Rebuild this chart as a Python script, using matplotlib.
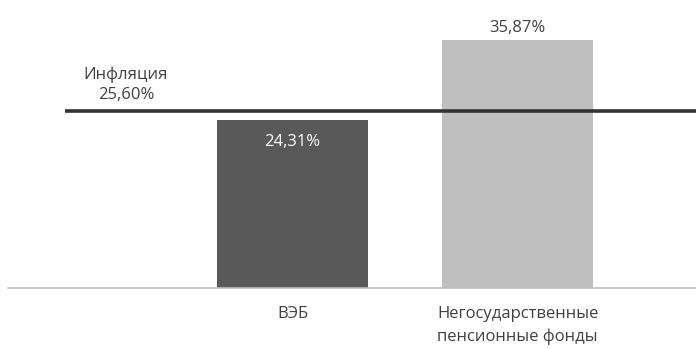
import matplotlib.pyplot as plt

# data
categories = ["", "ВЭБ", "Негосударственные\nпенсионные фонды"]
values = [None, 24.31, 35.87]
value_labels = ["", "24,31%", "35,87%"]
inflation = 25.60
inflation_label = "Инфляция\n25,60%"

plt.rcParams['font.family'] = ['Open Sans', 'DejaVu Sans']

W, H = 696, 349
fig = plt.figure(figsize=(W / 100, H / 100), dpi=100)

# axes geometry in pixels
left_px, right_px = 8, 696
base_px, top_px = 288, 11.6
ax = fig.add_axes([left_px / W, (H - base_px) / H,
                   (right_px - left_px) / W, (base_px - top_px) / H])

x = list(range(len(categories)))
bar_x = [i for i, v in zip(x, values) if v is not None]
bar_v = [v for v in values if v is not None]
colors = ["#595959", "#bfbfbf"]
ax.bar(bar_x, bar_v, width=0.671, color=colors, zorder=2)

ax.set_xlim(-0.265, 2.793)
ax.set_ylim(0, 40)

fs = 12
txt = "#404040"

# inflation line
ax.hlines(inflation, -0.011, 2.793, color="#333333", linewidth=2.6, zorder=3)
ax.text(0.26, 29.4, inflation_label, ha="center", va="center",
        fontsize=fs, color=txt, linespacing=1.4)

# value labels
ax.text(1, bar_v[0] - 3.2, value_labels[1], ha="center", va="center",
        fontsize=fs, color="white", zorder=4)
ax.text(2, bar_v[1] + 1.8, value_labels[2], ha="center", va="center",
        fontsize=fs, color=txt, zorder=4)

# category labels
for i, c in zip(x, categories):
    if c:
        ax.text(i, -2.6, c, ha="center", va="top", fontsize=fs,
                color=txt, linespacing=1.5)

for s in ["top", "right", "left"]:
    ax.spines[s].set_visible(False)
ax.spines["bottom"].set_color("#bfbfbf")
ax.spines["bottom"].set_linewidth(1.2)
ax.set_xticks([])
ax.set_yticks([])

fig.savefig("out.png", dpi=100)
